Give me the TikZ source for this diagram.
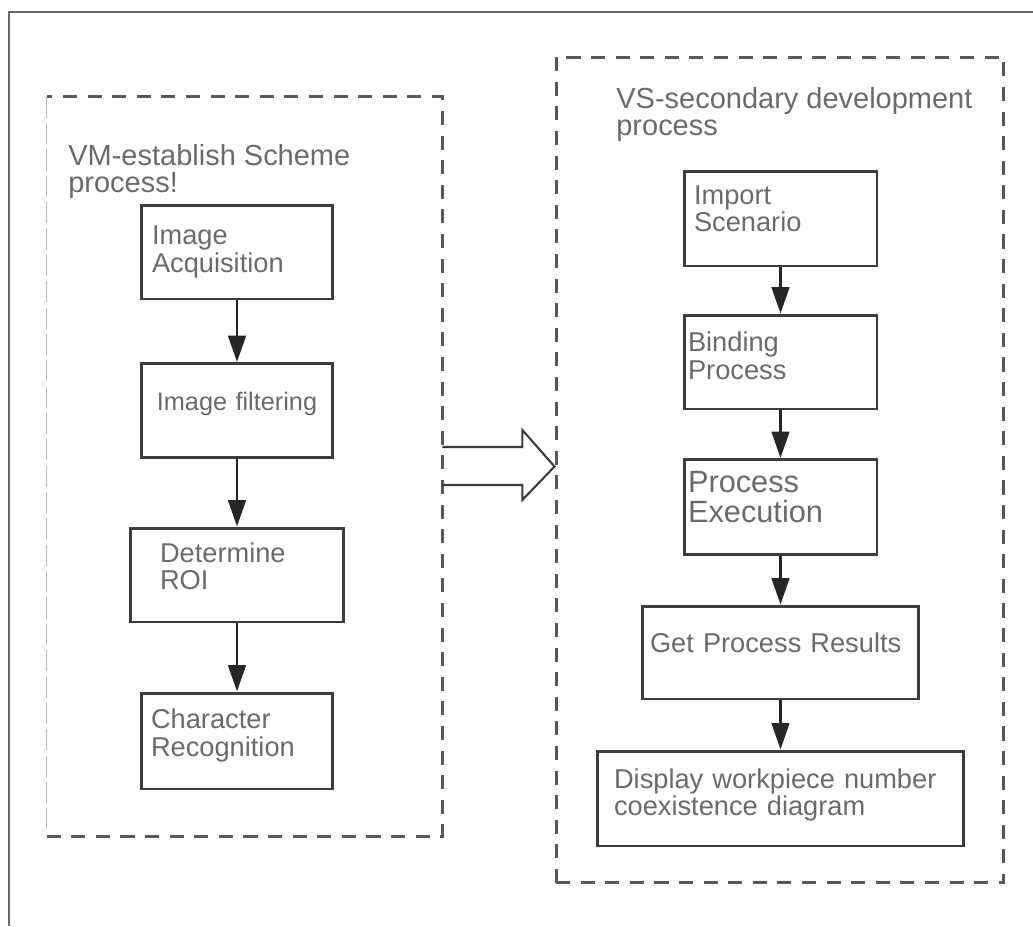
\documentclass[tikz,border=0pt]{standalone}
\usepackage{fontspec}
\setmainfont{Liberation Sans}
\usepackage{tikz}
\usetikzlibrary{arrows.meta, positioning, calc}
\definecolor{framegray}{HTML}{6A6A6A}
\definecolor{boxgray}{HTML}{3C3C3C}
\definecolor{textgray}{HTML}{6A6A6A}

\begin{document}
\begin{tikzpicture}[x=0.02cm, y=-0.02cm, >={Triangle[width=10pt,length=15pt]},
  every node/.style={font=\fontsize{15.5}{15.5}\selectfont, text=textgray},
  stepbox/.style={draw=boxgray, line width=1.7pt, minimum height=1.88cm, align=left},
  groupbox/.style={draw=boxgray!85, line width=1.7pt, dash pattern=on 8pt off 6pt},
  grouptitle/.style={anchor=base west, align=left, inner sep=0pt, font=\fontsize{16.5}{15}\selectfont},
  flow/.style={->, draw=black!85, line width=1.6pt}]
  \useasboundingbox (0,0) rectangle (1033,926);

  % Frame
  \draw[framegray, line width=1.2pt] (9,926) -- (9,12) -- (1033,12);

  % Groupe VM
  \node[minimum width=7.9cm, minimum height=14.78cm] (vm) at (244.5,466.5) {};
  \draw[groupbox] (vm.south west) -- (vm.south east) -- (vm.north east) -- (vm.north west);
  \draw[groupbox, line width=0.7pt, draw=gray!55, dash pattern=on 12pt off 3pt] (vm.north west) -- (vm.south west);
  \node[grouptitle] (vmtitle) at (68,192) {VM-establish Scheme\\process!};

  % Etapes VM
  \node[stepbox, text width=3.4cm, inner xsep=0.22cm] (acq) at (237,252) {Image\\Acquisition};
  \node[stepbox, text width=3.44cm, inner xsep=0.2cm, align=center, text depth=10.5pt,
        font=\fontsize{14.4}{14}\selectfont] (filt) at (237,410.5) {Image filtering};
  \node[stepbox, text width=3.08cm, inner xsep=0.6cm, text height=1pt] (roi) at (237,575) {Determine\\ROI};
  \node[stepbox, text width=3.44cm, inner xsep=0.2cm, minimum height=1.92cm, text height=5pt] (chr) at (237,741) {Character\\Recognition};

  \draw[flow] (acq) -- (filt);
  \draw[flow] (filt) -- (roi);
  \draw[flow] (roi) -- (chr);

  % Groupe VS
  \node[groupbox, draw, minimum width=8.96cm, minimum height=16.52cm] (vs) at (780,470) {};
  \node[grouptitle] (vstitle) at (616,135) {VS-secondary development\\process};

  % Etapes VS
  \node[stepbox, text width=3.46cm, inner xsep=0.2cm, minimum height=1.9cm, text height=0pt] (imp) at (780.5,218.5) {Import\\Scenario};
  \node[stepbox, text width=3.7cm, inner xsep=0.08cm, text height=4pt] (bind) at (780.5,362) {Binding\\Process};
  \node[stepbox, text width=3.7cm, inner xsep=0.08cm, minimum height=1.9cm, text height=1pt,
        font=\fontsize{17.5}{17}\selectfont] (exe) at (780.5,507) {Process\\Execution};
  \node[stepbox, text width=5.22cm, inner xsep=0.16cm, minimum height=1.86cm, text depth=11pt] (res) at (780.5,652.5) {Get Process Results};
  \node[stepbox, text width=6.66cm, inner xsep=0.34cm, minimum height=1.9cm, text height=7pt] (disp) at (780.5,798.5) {Display workpiece number\\coexistence diagram};

  \draw[flow] (imp) -- (bind);
  \draw[flow] (bind) -- (exe);
  \draw[flow] (exe) -- (res);
  \draw[flow] (res) -- (disp);

  % Fleche creuse VM -> VS
  \draw[boxgray, line width=1.2pt, line join=miter]
    ($(vm.east)+(0,-19.5)$) -- ++(80,0) -- ++(0,-17) -- (vm.east -| vs.west)
    -- ($(vm.east)+(80,33.5)$) -- ++(0,-15) -- ($(vm.east)+(0,18.5)$);
\end{tikzpicture}
\end{document}
